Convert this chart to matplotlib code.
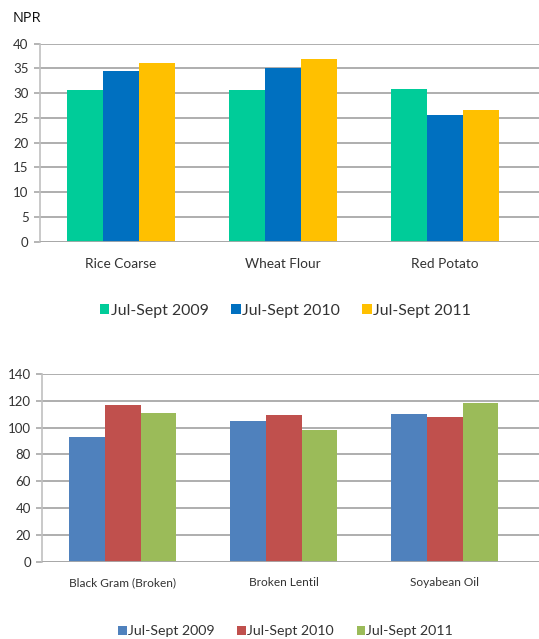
import matplotlib
matplotlib.use("Agg")
import matplotlib.pyplot as plt
import numpy as np

# data
periods = ["Jul-Sept 2009", "Jul-Sept 2010", "Jul-Sept 2011"]

cereal_items = ["Rice Coarse", "Wheat Flour", "Red Potato"]
cereal_2009 = [30.6, 30.6, 30.8]
cereal_2010 = [34.5, 35.0, 25.5]
cereal_2011 = [36.1, 36.9, 26.6]

pulse_items = ["Black Gram (Broken)", "Broken Lentil", "Soyabean Oil"]
pulse_2009 = [92.8, 105.2, 110.0]
pulse_2010 = [116.7, 109.2, 108.2]
pulse_2011 = [111.0, 98.5, 118.7]

top_colors = ["#00CC99", "#0070C0", "#FFC000"]
bottom_colors = ["#4F81BD", "#C0504D", "#9BBB59"]

plt.rcParams['font.family'] = ['Lato', 'DejaVu Sans']

W, H = 539, 639
fig = plt.figure(figsize=(W / 100, H / 100), dpi=100)


def draw_panel(rect, items, series, colors, ymax, ystep, label_pad,
               extra_right, xsize):
    ax = fig.add_axes(rect)
    x = np.arange(len(items))
    bw = 2 / 9  # excel gap width 150%
    for i, (vals, c) in enumerate(zip(series, colors)):
        ax.bar(x + (i - 1) * bw, vals, width=bw, color=c, zorder=3,
               label=periods[i])
    ax.set_xlim(-0.5, len(items) - 0.5 + extra_right)
    ax.set_ylim(0, ymax)
    ax.set_yticks(np.arange(0, ymax + 1, ystep))
    ax.set_xticks(x)
    ax.set_xticklabels(items)
    ax.yaxis.grid(True, color="#a8a8a8", linewidth=1.3, zorder=0)
    for s in ["top", "right", "bottom"]:
        ax.spines[s].set_visible(False)
    ax.spines["left"].set_color("#c0c0c0")
    ax.spines["left"].set_linewidth(1.2)
    ax.axhline(0, color="#a8a8a8", linewidth=1.3, zorder=4)
    ax.tick_params(axis="y", length=4, width=1.2, color="#a8a8a8", pad=4,
                   labelsize=9.5, labelcolor="#333333")
    ax.tick_params(axis="x", length=0, pad=label_pad, labelsize=xsize,
                   labelcolor="#333333")
    return ax


# top panel: plot area 39.7..539 px wide, 43.7..241.7 px tall
cat_w = 162
left1 = 39.7
ext1 = (W - (left1 + 3 * cat_w)) / cat_w
ax1 = draw_panel([left1 / W, 1 - 241.7 / H, (W - left1) / W, 198 / H],
                 cereal_items, [cereal_2009, cereal_2010, cereal_2011],
                 top_colors, 40, 5, 12, ext1, 9.8)
fig.text(13 / W, 1 - 18 / H, "NPR", fontsize=10.5, va="center",
         family=["Open Sans", "DejaVu Sans"], color="#111111")
ax1.legend(loc="center left", bbox_to_anchor=(92 / W, 1 - 310.5 / H),
           bbox_transform=fig.transFigure, ncol=3, frameon=False,
           fontsize=11.4, handlelength=0.6, handleheight=0.6,
           handletextpad=0.1, columnspacing=1.4, borderpad=0,
           labelcolor="#333333")

# bottom panel
cat_w2 = 161
left2 = 42.2
ext2 = (W - (left2 + 3 * cat_w2)) / cat_w2
ax2 = draw_panel([left2 / W, 1 - 561.7 / H, (W - left2) / W, 187.7 / H],
                 pulse_items, [pulse_2009, pulse_2010, pulse_2011],
                 bottom_colors, 140, 20, 11, ext2, 8.6)
ax2.legend(loc="center left", bbox_to_anchor=(111 / W, 1 - 631 / H),
           bbox_transform=fig.transFigure, ncol=3, frameon=False,
           fontsize=10.2, handlelength=0.6, handleheight=0.6,
           handletextpad=0.1, columnspacing=1.6, borderpad=0,
           labelcolor="#333333")

fig.savefig("out.png", dpi=100)
